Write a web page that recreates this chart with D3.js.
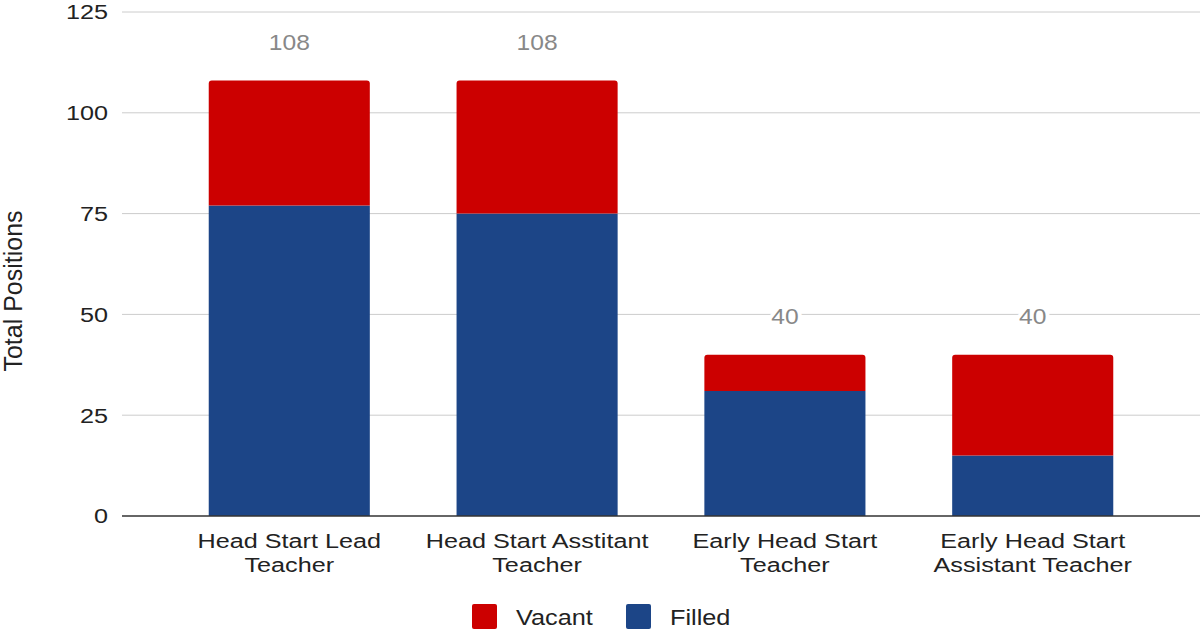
<!DOCTYPE html>
<html>
<head>
<meta charset="utf-8">
<script src="https://cdn.jsdelivr.net/npm/d3@7"></script>
<style>
  body { margin: 0; background: #fff; }
  svg { font-family: "Liberation Sans", Arial, sans-serif; }
</style>
</head>
<body>
<div id="chart"></div>
<script>
// Data
const categories = [
  ["Head Start Lead", "Teacher"],
  ["Head Start Asstitant", "Teacher"],
  ["Early Head Start", "Teacher"],
  ["Early Head Start", "Assistant Teacher"]
];
const filled = [77, 75, 31, 15];
const vacant = [31, 33, 9, 25];
const yTicks = [0, 25, 50, 75, 100, 125];
const seriesNames = ["Vacant", "Filled"];
const colors = {Vacant: "#cc0000", Filled: "#1c4587"};

const W = 1202, H = 630;
const margin = {top: 12, right: 2, bottom: 114, left: 122};
const width = W - margin.left - margin.right,
      height = H - margin.top - margin.bottom;

// the reference text looks a bit wider than Liberation Sans, so stretch it
const SX = 1.2;

const svg = d3.select("#chart").append("svg")
    .attr("width", W)
    .attr("height", H);

const g = svg.append("g")
    .attr("transform", `translate(${margin.left},${margin.top})`);

const x = d3.scaleBand()
  .domain(d3.range(categories.length))
  .range([0, width])
  .paddingInner(0.35)
  .paddingOuter(0.35);

const y = d3.scaleLinear()
  .domain([0, 125])
  .range([height, 0]);

// Gridlines
g.selectAll(".grid")
  .data(yTicks.filter(d => d > 0))
  .enter().append("line")
    .attr("x1", 0)
    .attr("x2", width)
    .attr("y1", d => y(d))
    .attr("y2", d => y(d))
    .attr("stroke", "#cccccc")
    .attr("stroke-width", 1);

// Y tick labels
g.selectAll(".ytick")
  .data(yTicks)
  .enter().append("text")
    .attr("transform", d => `translate(-14,${y(d)}) scale(${SX},1)`)
    .attr("dy", "0.35em")
    .attr("text-anchor", "end")
    .style("font-size", "21px")
    .attr("fill", "#222")
    .text(d => d);

// Bars
const r = 3;
function topRounded(x0, y0, w, h) {
  return `M${x0},${y0 + h}V${y0 + r}Q${x0},${y0} ${x0 + r},${y0}H${x0 + w - r}Q${x0 + w},${y0} ${x0 + w},${y0 + r}V${y0 + h}Z`;
}

categories.forEach((c, i) => {
  const bx = x(i), bw = x.bandwidth();
  const total = filled[i] + vacant[i];
  g.append("rect")
    .attr("x", bx)
    .attr("y", y(filled[i]))
    .attr("width", bw)
    .attr("height", y(0) - y(filled[i]))
    .attr("fill", colors.Filled);
  g.append("path")
    .attr("d", topRounded(bx, y(total), bw, y(filled[i]) - y(total)))
    .attr("fill", colors.Vacant);

  // Total label
  g.append("text")
    .attr("transform", `translate(${bx + bw / 2},${y(total) - 38}) scale(1.12,1)`)
    .attr("dy", "0.35em")
    .attr("text-anchor", "middle")
    .style("font-size", "22px")
    .attr("fill", "#888")
    .attr("stroke", "#fff")
    .attr("stroke-width", 7)
    .attr("paint-order", "stroke")
    .text(total);

  // Category label
  c.forEach((line, j) => {
    g.append("text")
      .attr("transform", `translate(${bx + bw / 2},${height + 32 + j * 24}) scale(${SX},1)`)
      .attr("text-anchor", "middle")
      .style("font-size", "21px")
      .attr("fill", "#222")
      .text(line);
  });
});

// Baseline
g.append("line")
  .attr("x1", 0)
  .attr("x2", width)
  .attr("y1", y(0))
  .attr("y2", y(0))
  .attr("stroke", "#333")
  .attr("stroke-width", 1.5);

// Y axis title
svg.append("text")
  .attr("transform", `translate(22, ${margin.top + height / 2 + 27}) rotate(-90)`)
  .attr("text-anchor", "middle")
  .style("font-size", "25px")
  .attr("fill", "#222")
  .text("Total Positions");

// Legend
const legendX = [472, 626];
const legend = svg.selectAll(".legend")
  .data(seriesNames)
  .enter().append("g")
  .attr("transform", (d, i) => `translate(${legendX[i]}, 604)`);

legend.append("rect")
  .attr("width", 25)
  .attr("height", 25)
  .attr("rx", 2)
  .attr("fill", d => colors[d]);

legend.append("text")
  .attr("transform", `translate(44,13) scale(1.15,1)`)
  .attr("dy", "0.35em")
  .style("font-size", "22px")
  .attr("fill", "#222")
  .text(d => d);
</script>
</body>
</html>
